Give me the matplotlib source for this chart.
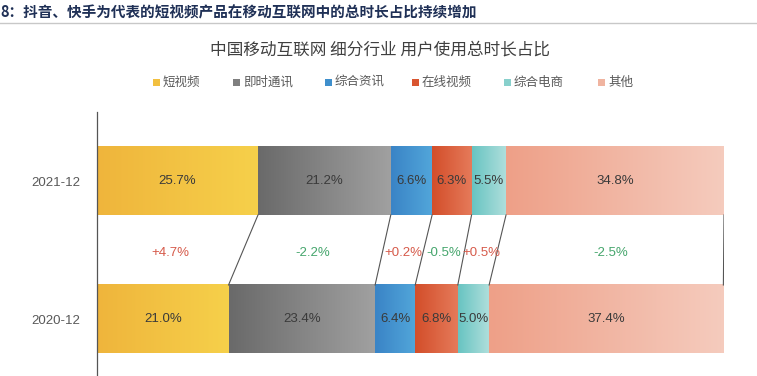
import numpy as np
import matplotlib
matplotlib.use("Agg")
import matplotlib.pyplot as plt
from matplotlib.colors import LinearSegmentedColormap
from matplotlib.patches import Rectangle
from matplotlib.lines import Line2D

plt.rcParams['font.family'] = ['Noto Sans CJK SC', 'DejaVu Sans']

# data
categories = ['短视频', '即时通讯', '综合资讯', '在线视频', '综合电商', '其他']
years = ['2021-12', '2020-12']
share_2021 = [25.7, 21.2, 6.6, 6.3, 5.5, 34.8]
share_2020 = [21.0, 23.4, 6.4, 6.8, 5.0, 37.4]
changes = ['+4.7%', '-2.2%', '+0.2%', '-0.5%', '+0.5%', '-2.5%']

# gradient start/end colour per category
grad = [('#efb53c', '#f6d04a'),
        ('#6a6a6a', '#a0a0a0'),
        ('#3a84c6', '#52a6da'),
        ('#d34e2a', '#e57a5a'),
        ('#68c4c2', '#b0dfdc'),
        ('#eea088', '#f5cbbd')]
legend_col = ['#f2c040', '#7f7f7f', '#3f8fcc', '#d95530', '#88d0cc', '#f0b4a0']
num_font = 'Liberation Sans'

fig = plt.figure(figsize=(7.57, 3.76), dpi=100)

# page header
fig.text(0.0, 0.968, '8：抖音、快手为代表的短视频产品在移动互联网中的总时长占比持续增加',
         fontsize=10.5, fontweight='bold', color='#1f3056', va='center', ha='left')
fig.add_artist(Line2D([0, 1], [0.938, 0.938], color='#c8c8c8', lw=1))

fig.text(0.502, 0.865, '中国移动互联网 细分行业 用户使用总时长占比',
         fontsize=12, color='#404040', ha='center', va='center')

# legend
leg_x = [153, 233, 325, 412, 504, 598]
for lx, lab, c in zip(leg_x, categories, legend_col):
    fig.add_artist(Rectangle((lx / 757, 1 - 86 / 376), 7 / 757, 7 / 376,
                             transform=fig.transFigure, color=c, lw=0))
    fig.text((lx + 10) / 757, 1 - 82.5 / 376, lab, fontsize=9, color='#595959',
             ha='left', va='center')

ax = fig.add_axes([97 / 757, 0.0, 627 / 757, 264 / 376])
ypos = [1, 0]
h = 0.493
series = [share_2021, share_2020]

for y, vals in zip(ypos, series):
    left = 0
    for i, v in enumerate(vals):
        ax.barh(y, v, left=left, height=h, color=grad[i][0], lw=0, zorder=1)
        cmap = LinearSegmentedColormap.from_list('g%d' % i, grad[i])
        ax.imshow(np.linspace(0, 1, 64).reshape(1, -1), cmap=cmap, aspect='auto',
                  extent=(left, left + v, y - h / 2, y + h / 2), zorder=2,
                  interpolation='bilinear')
        ax.text(left + v / 2, y, '%.1f%%' % v, ha='center', va='center',
                fontsize=9.5, color='#3a3a3a', family=num_font, zorder=3)
        left += v

# connectors and change labels
c21 = np.cumsum(share_2021)
c20 = np.cumsum(share_2020)
for i in range(len(categories)):
    ax.plot([c21[i], c20[i]], [1 - h / 2, h / 2], color='#555555', lw=0.8, zorder=2)
    mid = ((c21[i] - share_2021[i] / 2) + (c20[i] - share_2020[i] / 2)) / 2
    col = '#d65a4a' if changes[i].startswith('+') else '#45a56c'
    ax.text(mid, 0.48, changes[i], ha='center', va='center', fontsize=9.5,
            color=col, family=num_font, zorder=3)

ax.set_xlim(0, 100.1)
ax.set_ylim(-0.413, 1.5)
ax.set_yticks(ypos)
ax.set_yticklabels(years, fontsize=9.5, color='#595959', family=num_font)
ax.tick_params(axis='y', length=0, pad=12)
ax.set_xticks([])
for s in ['top', 'right', 'bottom']:
    ax.spines[s].set_visible(False)
ax.spines['left'].set_color('#555555')
ax.spines['left'].set_linewidth(0.9)
ax.patch.set_alpha(0)

fig.savefig('out.png', dpi=100)
